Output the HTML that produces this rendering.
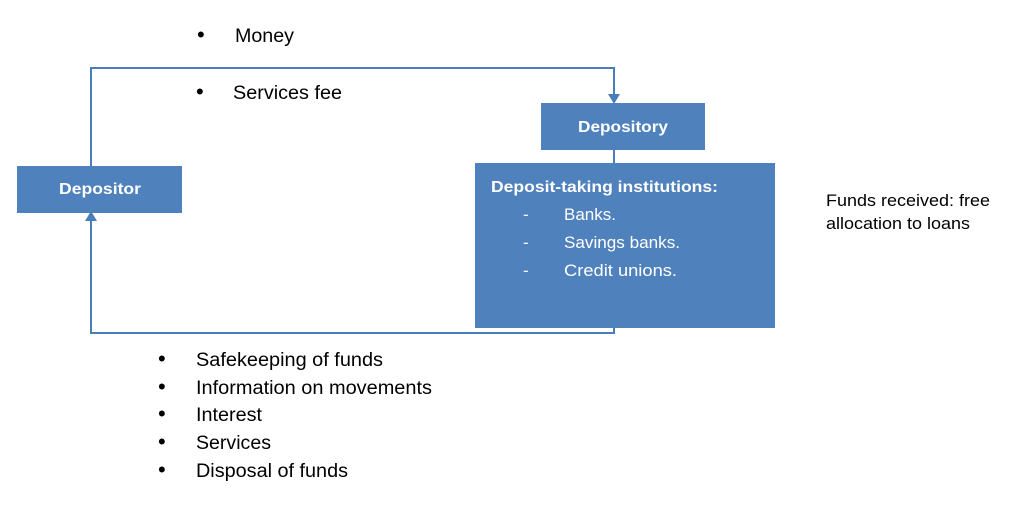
<!DOCTYPE html>
<html><head><meta charset="utf-8"><style>
html,body{margin:0;padding:0;background:#fff;width:1024px;height:512px;overflow:hidden}
svg{display:block}
text{font-family:"Liberation Sans",Arial,sans-serif}
</style></head><body>
<svg width="1024" height="512" viewBox="0 0 1024 512">
<g stroke="#4a7ebb" stroke-width="2" fill="none">
<polyline points="91,166 91,68 614,68 614,96"/>
<polyline points="614,150 614,163"/>
<polyline points="614,328 614,333 91,333 91,220"/>
</g>
<polygon points="608,94 620,94 614,104" fill="#4a7ebb"/>
<polygon points="85,221 97,221 91,211" fill="#4a7ebb"/>
<rect x="17" y="166" width="165" height="47" fill="#4f81bd"/>
<rect x="541" y="103" width="164" height="47" fill="#4f81bd"/>
<rect x="475" y="163" width="300" height="165" fill="#4f81bd"/>
<g fill="#fff" font-weight="bold" font-size="16">
<text x="59" y="194" textLength="82" lengthAdjust="spacingAndGlyphs">Depositor</text>
<text x="578" y="132" textLength="90" lengthAdjust="spacingAndGlyphs">Depository</text>
<text x="491" y="192" textLength="227" lengthAdjust="spacingAndGlyphs">Deposit-taking institutions:</text>
</g>
<g fill="#fff" font-size="17">
<text x="523" y="220">-</text><text x="564" y="220" textLength="52" lengthAdjust="spacingAndGlyphs">Banks.</text>
<text x="523" y="248">-</text><text x="564" y="248" textLength="116" lengthAdjust="spacingAndGlyphs">Savings banks.</text>
<text x="523" y="276">-</text><text x="564" y="276" textLength="113" lengthAdjust="spacingAndGlyphs">Credit unions.</text>
</g>
<g fill="#000" font-size="19">
<text x="197" y="42" font-size="22">•</text><text x="235" y="42" textLength="59" lengthAdjust="spacingAndGlyphs">Money</text>
<text x="196" y="99" font-size="22">•</text><text x="233" y="99" textLength="109" lengthAdjust="spacingAndGlyphs">Services fee</text>
<g font-size="22"><text x="158" y="366">•</text><text x="158" y="394">•</text><text x="158" y="421">•</text><text x="158" y="449">•</text><text x="158" y="477">•</text></g>
<text x="196" y="366" textLength="187" lengthAdjust="spacingAndGlyphs">Safekeeping of funds</text>
<text x="196" y="394" textLength="236" lengthAdjust="spacingAndGlyphs">Information on movements</text>
<text x="196" y="421" textLength="66" lengthAdjust="spacingAndGlyphs">Interest</text>
<text x="196" y="449" textLength="75" lengthAdjust="spacingAndGlyphs">Services</text>
<text x="196" y="477" textLength="152" lengthAdjust="spacingAndGlyphs">Disposal of funds</text>
</g>
<g fill="#000" font-size="17">
<text x="826" y="206" textLength="164" lengthAdjust="spacingAndGlyphs">Funds received: free</text>
<text x="826" y="229" textLength="144" lengthAdjust="spacingAndGlyphs">allocation to loans</text>
</g>
</svg>
</body></html>
